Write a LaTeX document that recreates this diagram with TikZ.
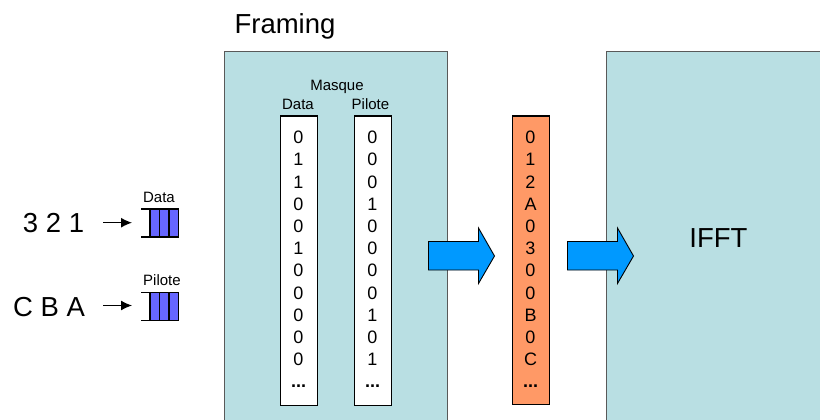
\documentclass[tikz,border=0pt]{standalone}
\usepackage{fontspec}
\setmainfont{Liberation Sans}
\usetikzlibrary{shapes.arrows,arrows.meta}
\definecolor{panel}{HTML}{B9DFE3}
\definecolor{cellblue}{HTML}{6666FF}
\definecolor{bigarrow}{HTML}{0099FF}
\definecolor{orangecol}{HTML}{FF9966}
\tikzset{
  x=1pt,y=-1pt,
  panelbox/.style={draw=black!65,fill=panel,line width=1pt},
  colbox/.style={draw=black,line width=1pt,fill=white},
  bitstext/.style={font=\fontsize{18}{22.2}\selectfont,align=center,inner sep=0pt,anchor=north},
  small/.style={font=\fontsize{15}{17}\selectfont,inner sep=0pt},
  seq/.style={font=\fontsize{27.5}{32}\selectfont,inner sep=0pt},
  qcell/.style={draw=black,fill=cellblue,line width=1.2pt},
  qline/.style={draw=black,line width=1.2pt},
  bigarr/.style={draw=black,fill=bigarrow,line width=0.9pt},
  thinarr/.style={draw=black,line width=1.2pt,-{Latex[length=11pt,width=10pt]}},
}
\newcommand{\bigarrowshape}[2]{%
  \path[bigarr] (#1,241.5) -- (#1+50,241.5) -- (#1+50,228) -- (#1+66,256) -- (#1+50,283.5) -- (#1+50,270) -- (#1,270) -- cycle;}
\newcommand{\queueshape}[2]{%
  \path[qcell] (150,#2) rectangle (159.5,#2+28);
  \path[qcell] (159.5,#2) rectangle (169,#2+28);
  \path[qcell] (169,#2) rectangle (178.5,#2+28);
  \path[qline] (141,#2) -- (150,#2);
  \path[qline] (141,#2+28) -- (150,#2+28);}
\begin{document}
\begin{tikzpicture}
\useasboundingbox (0,0) rectangle (820,420);
\clip (0,0) rectangle (820,420);
% panels
\path[panelbox] (224.5,51.5) rectangle (447.5,440);
\path[panelbox] (606.5,51.5) rectangle (840,440);
\node[font=\fontsize{27.5}{32}\selectfont,inner sep=0pt] (framing) at (285,26) {Framing};
\node[font=\fontsize{27.5}{32}\selectfont,inner sep=0pt] (ifft) at (718.5,238) {IFFT};
% mask headers
\node[small] (masque) at (337,87) {Masque};
\node[small] (hdata) at (298,104) {Data};
\node[small] (hpilote) at (370.5,104) {Pilote};
% columns
\node[colbox,minimum width=37pt,minimum height=289pt,inner sep=0pt] (cdata) at (298.5,260.5) {};
\node[colbox,minimum width=37pt,minimum height=289pt,inner sep=0pt] (cpilote) at (372.5,260.5) {};
\node[draw=black,fill=orangecol,line width=1pt,minimum width=37pt,minimum height=288pt,inner sep=0pt] (corange) at (530.5,260) {};
\node[bitstext] (tdata) at (298.5,131) {0\\1\\1\\0\\0\\1\\0\\0\\0\\0\\0\\\textbf{...}};
\node[bitstext] (tpilote) at (372.5,131) {0\\0\\0\\1\\0\\0\\0\\0\\1\\0\\1\\\textbf{...}};
\node[bitstext] (torange) at (530.5,131) {0\\1\\2\\A\\0\\3\\0\\0\\B\\0\\C\\\textbf{...}};
% big arrows
\bigarrowshape{428.5}{a}
\bigarrowshape{567.5}{b}
% left sequences
\node[seq] (s1) at (53.5,223) {3 2 1};
\node[seq] (s2) at (49,307) {C B A};
\coordinate (q1) at (132,222.7);
\coordinate (q2) at (132,305.5);
\coordinate (f1) at (103,222.7);
\coordinate (f2) at (103,305.5);
\draw[thinarr] (f1) -- (q1);
\draw[thinarr] (f2) -- (q2);
\queueshape{a}{209}
\queueshape{b}{292.5}
\node[small] (qd) at (159,197.5) {Data};
\node[small] (qp) at (162,280.5) {Pilote};
\end{tikzpicture}
\end{document}
